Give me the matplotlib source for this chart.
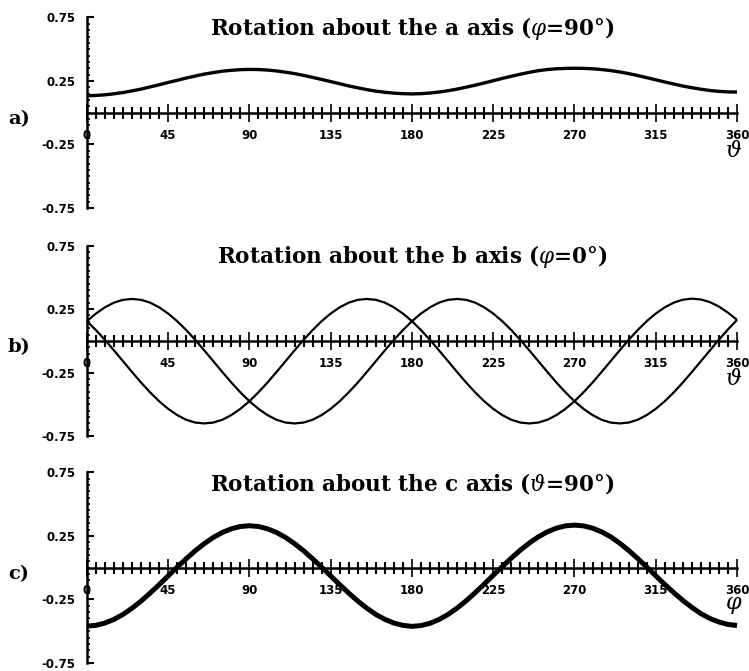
import numpy as np
import matplotlib.pyplot as plt
from matplotlib.ticker import MultipleLocator, FixedLocator

plt.rcParams['mathtext.fontset'] = 'dejavuserif'

# Углы (градусы), шаг 5.
angle = np.arange(0, 361, 5)

# a) вращение вокруг оси a (phi = 90).
rot_a = [0.134, 0.136, 0.141, 0.149, 0.159, 0.172, 0.186, 0.203, 0.220, 0.238,
         0.255, 0.273, 0.289, 0.304, 0.316, 0.327, 0.334, 0.339, 0.341,
         0.340, 0.336, 0.329, 0.319, 0.308, 0.294, 0.278, 0.262, 0.245,
         0.228, 0.211, 0.196, 0.182, 0.170, 0.161, 0.154, 0.150, 0.148,
         0.150, 0.155, 0.163, 0.173, 0.186, 0.201, 0.217, 0.234, 0.252,
         0.270, 0.287, 0.303, 0.318, 0.331, 0.340, 0.346, 0.349, 0.350,
         0.349, 0.346, 0.340, 0.332, 0.321, 0.308, 0.293, 0.276, 0.259,
         0.242, 0.226, 0.210, 0.197, 0.185, 0.175, 0.168, 0.164, 0.163]

# b) вращение вокруг оси b (phi = 0), две кривые.
rot_b1 = [0.155, 0.215, 0.264, 0.301, 0.323, 0.330, 0.323, 0.301, 0.264, 0.215,
          0.155, 0.085, 0.008, -0.075, -0.160, -0.245, -0.328, -0.405, -0.475,
          -0.535, -0.584, -0.621, -0.643, -0.650, -0.643, -0.621, -0.584, -0.535,
          -0.475, -0.405, -0.328, -0.245, -0.160, -0.075, 0.008, 0.085,
          0.155, 0.215, 0.264, 0.301, 0.323, 0.330, 0.323, 0.301, 0.264, 0.215,
          0.155, 0.085, 0.008, -0.075, -0.160, -0.245, -0.328, -0.405, -0.475,
          -0.535, -0.584, -0.621, -0.643, -0.650, -0.643, -0.621, -0.584, -0.535,
          -0.475, -0.405, -0.328, -0.245, -0.160, -0.075, 0.010, 0.090, 0.165]
rot_b2 = [0.155, 0.085, 0.008, -0.075, -0.160, -0.245, -0.328, -0.405, -0.475,
          -0.535, -0.584, -0.621, -0.643, -0.650, -0.643, -0.621, -0.584, -0.535,
          -0.475, -0.405, -0.328, -0.245, -0.160, -0.075, 0.008, 0.085, 0.155,
          0.215, 0.264, 0.301, 0.323, 0.330, 0.323, 0.301, 0.264, 0.215,
          0.155, 0.085, 0.008, -0.075, -0.160, -0.245, -0.328, -0.405, -0.475,
          -0.535, -0.584, -0.621, -0.643, -0.650, -0.643, -0.621, -0.584, -0.535,
          -0.475, -0.405, -0.328, -0.245, -0.160, -0.075, 0.008, 0.085, 0.155,
          0.215, 0.264, 0.301, 0.324, 0.332, 0.326, 0.305, 0.270, 0.222, 0.165]

# c) вращение вокруг оси c (theta = 90).
rot_c = [-0.460, -0.454, -0.436, -0.407, -0.368, -0.319, -0.263, -0.200, -0.134, -0.065,
         0.004, 0.070, 0.133, 0.189, 0.238, 0.277, 0.306, 0.324, 0.330,
         0.324, 0.306, 0.277, 0.238, 0.189, 0.133, 0.070, 0.004, -0.065,
         -0.134, -0.200, -0.263, -0.319, -0.368, -0.407, -0.436, -0.454, -0.462,
         -0.456, -0.438, -0.408, -0.368, -0.318, -0.261, -0.197, -0.130, -0.060,
         0.008, 0.075, 0.138, 0.194, 0.243, 0.282, 0.311, 0.329, 0.335,
         0.329, 0.311, 0.282, 0.243, 0.193, 0.136, 0.072, 0.005, -0.064,
         -0.132, -0.197, -0.258, -0.313, -0.362, -0.400, -0.428, -0.447, -0.455]

x_ticks = [0, 45, 90, 135, 180, 225, 270, 315, 360]
y_ticks = [-0.75, -0.25, 0.25, 0.75]
y_labels = ['-0.75', '-0.25', '0.25', '0.75']

titles = [r'Rotation about the a axis ($\varphi$=90°)',
          r'Rotation about the b axis ($\varphi$=0°)',
          r'Rotation about the c axis ($\vartheta$=90°)']
letters = ['a)', 'b)', 'c)']
xnames = [r'$\vartheta$', r'$\vartheta$', r'$\varphi$']

fig = plt.figure(figsize=(7.49, 6.71), dpi=100)
bottoms = [0.690, 0.350, 0.012]
axes = [fig.add_axes([0.116, b, 0.868, 0.284]) for b in bottoms]

series = [([rot_a], 2.4), ([rot_b1, rot_b2], 1.6), ([rot_c], 3.6)]

for i, ax in enumerate(axes):
    curves, lw = series[i]
    for y in curves:
        ax.plot(angle, y, color='black', lw=lw, clip_on=False, solid_capstyle='butt')

    ax.set_xlim(0, 360)
    ax.set_ylim(-0.75, 0.75)
    for s in ['top', 'right']:
        ax.spines[s].set_visible(False)
    ax.spines['bottom'].set_position(('data', 0))
    ax.spines['bottom'].set_linewidth(1.8)
    ax.spines['left'].set_linewidth(1.8)
    ax.spines['left'].set_bounds(-0.75, 0.75)

    ax.xaxis.set_major_locator(FixedLocator(x_ticks))
    ax.xaxis.set_minor_locator(MultipleLocator(5))
    ax.set_xticklabels([str(t) for t in x_ticks])
    ax.tick_params(axis='x', which='major', direction='inout', length=13, width=1.2, pad=5)
    ax.tick_params(axis='x', which='minor', direction='inout', length=8, width=1.5)

    ax.yaxis.set_major_locator(FixedLocator(y_ticks))
    ax.yaxis.set_minor_locator(MultipleLocator(0.05))
    ax.set_yticklabels(y_labels)
    ax.tick_params(axis='y', which='major', direction='in', length=5, width=1.5, pad=8)
    ax.tick_params(axis='y', which='minor', direction='in', length=2.5, width=1.2)

    for lab in ax.get_xticklabels() + ax.get_yticklabels():
        lab.set_fontweight('bold')
        lab.set_fontsize(8.5)

    ax.text(180, 0.665, titles[i], ha='center', va='center', fontsize=15.5,
            fontweight='bold', family='DejaVu Serif')
    ax.text(358, -0.30, xnames[i], ha='center', va='center', fontsize=16)

    fig.text(0.025, bottoms[i] + 0.284 * 0.5 - 0.01, letters[i], ha='center', va='center',
             fontsize=14, fontweight='bold', family='DejaVu Serif')

fig.savefig('out.png', dpi=100)
